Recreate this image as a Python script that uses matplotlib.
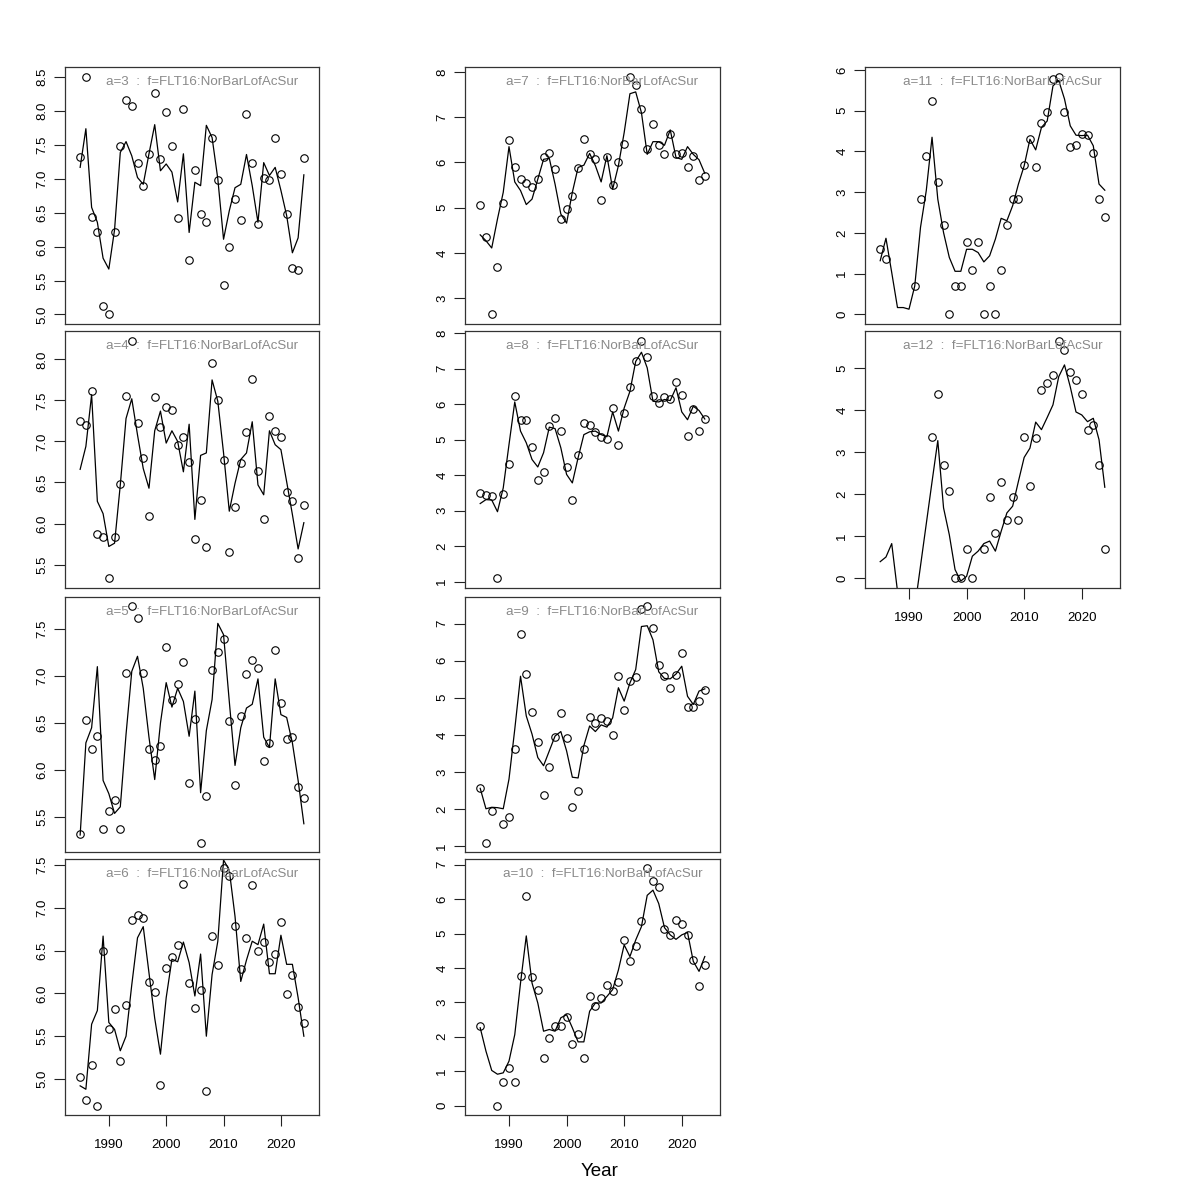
import numpy as np
import matplotlib
matplotlib.use("Agg")
import matplotlib.pyplot as plt
from matplotlib.ticker import MultipleLocator, FormatStrFormatter

plt.rcParams['font.family'] = ['Liberation Sans', 'DejaVu Sans']

years = np.arange(1985, 2025)
x_range = (1984, 2025)
nan = np.nan
fleet = "f=FLT16:NorBarLofAcSur"
ages = [3, 4, 5, 6, 7, 8, 9, 10, 11, 12]

obs = {
    3: [7.33, 8.51, 6.44, 6.22, 5.13, 5.00, 6.22, 7.48, 8.17, 8.08,
        7.23, 6.90, 7.36, 8.26, 7.29, 7.98, 7.48, 6.42, 8.03, 5.81,
        7.13, 6.48, 6.37, 7.60, 6.98, 5.43, 6.00, 6.71, 6.40, 7.95,
        7.23, 6.33, 7.01, 6.99, 7.61, 7.07, 6.48, 5.68, 5.66, 7.31],
    4: [7.25, 7.20, 7.62, 5.87, 5.84, 5.33, 5.84, 6.48, 7.55, 8.23,
        7.23, 6.80, 6.09, 7.54, 7.17, 7.42, 7.38, 6.96, 7.06, 6.75,
        5.81, 6.29, 5.71, 7.96, 7.51, 6.78, 5.65, 6.20, 6.74, 7.12,
        7.76, 6.64, 6.05, 7.31, 7.13, 7.06, 6.38, 6.27, 5.58, 6.23],
    5: [5.32, 6.53, 6.22, 6.36, 5.37, 5.57, 5.68, 5.37, 7.03, 7.74,
        7.62, 7.03, 6.22, 6.11, 6.26, 7.31, 6.75, 6.92, 7.15, 5.86,
        6.54, 5.23, 5.73, 7.06, 7.26, 7.39, 6.52, 5.84, 6.58, 7.02,
        7.17, 7.09, 6.10, 6.29, 7.28, 6.71, 6.33, 6.35, 5.82, 5.70],
    6: [5.02, 4.75, 5.16, 4.69, 6.50, 5.59, 5.82, 5.21, 5.87, 6.86,
        6.92, 6.88, 6.13, 6.02, 4.93, 6.30, 6.43, 6.56, 7.28, 6.12,
        5.83, 6.04, 4.86, 6.67, 6.33, 7.46, 7.37, 6.79, 6.29, 6.65,
        7.27, 6.49, 6.60, 6.37, 6.46, 6.84, 5.99, 6.22, 5.84, 5.65],
    7: [5.05, 4.35, 2.64, 3.68, 5.10, 6.49, 5.89, 5.64, 5.54, 5.45,
        5.64, 6.13, 6.22, 5.85, 4.76, 4.98, 5.25, 5.88, 6.51, 6.18,
        6.07, 5.16, 6.13, 5.50, 6.02, 6.41, 7.90, 7.71, 7.18, 6.30,
        6.86, 6.38, 6.18, 6.64, 6.18, 6.22, 5.90, 6.15, 5.62, 5.71],
    8: [3.50, 3.45, 3.41, 1.09, 3.46, 4.30, 6.23, 5.55, 5.55, 4.79,
        3.86, 4.08, 5.39, 5.62, 5.25, 4.24, 3.30, 4.56, 5.47, 5.40,
        5.22, 5.08, 5.03, 5.88, 4.86, 5.76, 6.49, 7.21, 7.79, 7.33,
        6.23, 6.02, 6.20, 6.15, 6.62, 6.26, 5.10, 5.86, 5.23, 5.59],
    9: [2.56, 1.10, 1.94, nan, 1.61, 1.79, 3.61, 6.71, 5.63, 4.63,
        3.80, 2.39, 3.13, 3.93, 4.60, 3.91, 2.07, 2.48, 3.63, 4.47,
        4.31, 4.46, 4.38, 4.00, 5.59, 4.68, 5.45, 5.55, 7.39, 7.46,
        6.88, 5.88, 5.59, 5.26, 5.61, 6.21, 4.75, 4.75, 4.90, 5.22],
    10: [2.30, nan, nan, 0.00, 0.69, 1.10, 0.69, 3.76, 6.09, 3.73,
         3.37, 1.39, 1.95, 2.30, 2.30, 2.57, 1.79, 2.08, 1.39, 3.17,
         2.88, 3.12, 3.50, 3.34, 3.58, 4.82, 4.21, 4.65, 5.37, 6.89,
         6.53, 6.34, 5.12, 4.96, 5.38, 5.27, 4.97, 4.23, 3.47, 4.08],
    11: [1.60, 1.37, nan, nan, nan, nan, 0.69, 2.83, 3.89, 5.23,
         3.25, 2.19, 0.00, 0.69, 0.69, 1.78, 1.10, 1.78, 0.00, 0.69,
         0.00, 1.10, 2.19, 2.83, 2.83, 3.68, 4.31, 3.63, 4.71, 4.98,
         5.78, 5.84, 4.98, 4.11, 4.17, 4.43, 4.40, 3.97, 2.83, 2.40],
    12: [nan, nan, nan, nan, nan, nan, nan, nan, nan, 3.36,
         4.38, 2.70, 2.07, 0.00, 0.00, 0.69, 0.00, nan, 0.69, 1.94,
         1.09, 2.30, 1.38, 1.94, 1.38, 3.36, 2.19, 3.33, 4.48, 4.64,
         4.83, 5.66, 5.43, 4.91, 4.71, 4.38, 3.52, 3.66, 2.70, 0.69],
}

pred = {
    3: [7.17, 7.74, 6.58, 6.36, 5.83, 5.67, 6.25, 7.39, 7.55, 7.34,
        7.02, 6.92, 7.37, 7.80, 7.12, 7.22, 7.10, 6.66, 7.37, 6.21,
        6.95, 6.90, 7.79, 7.61, 7.00, 6.11, 6.53, 6.87, 6.92, 7.36,
        6.90, 6.36, 7.24, 7.05, 7.17, 6.83, 6.46, 5.91, 6.13, 7.06],
    4: [6.66, 6.94, 7.57, 6.27, 6.12, 5.72, 5.76, 6.47, 7.28, 7.52,
        7.08, 6.67, 6.43, 7.13, 7.37, 6.98, 7.13, 7.00, 6.63, 7.21,
        6.05, 6.83, 6.86, 7.75, 7.49, 6.86, 6.15, 6.49, 6.78, 6.86,
        7.24, 6.47, 6.35, 7.13, 6.96, 6.90, 6.51, 6.11, 5.69, 6.01],
    5: [5.31, 6.29, 6.45, 7.10, 5.89, 5.75, 5.54, 5.61, 6.38, 7.05,
        7.21, 6.87, 6.35, 5.90, 6.50, 6.93, 6.67, 6.87, 6.73, 6.36,
        6.84, 5.76, 6.42, 6.75, 7.56, 7.44, 6.73, 6.05, 6.45, 6.66,
        6.70, 6.97, 6.35, 6.24, 6.97, 6.59, 6.56, 6.29, 5.89, 5.43],
    6: [4.92, 4.88, 5.64, 5.80, 6.67, 5.66, 5.58, 5.33, 5.50, 6.10,
        6.65, 6.78, 6.24, 5.71, 5.29, 5.95, 6.40, 6.37, 6.60, 6.36,
        5.97, 6.46, 5.50, 6.22, 6.61, 7.56, 7.44, 6.90, 6.14, 6.39,
        6.61, 6.57, 6.81, 6.23, 6.23, 6.68, 6.34, 6.34, 5.95, 5.50],
    7: [4.40, 4.27, 4.11, 4.75, 5.34, 6.35, 5.57, 5.38, 5.07, 5.19,
        5.63, 6.07, 6.09, 5.52, 4.86, 4.66, 5.34, 5.89, 5.94, 6.20,
        5.93, 5.57, 6.15, 5.41, 5.93, 6.66, 7.52, 7.56, 7.10, 6.18,
        6.46, 6.46, 6.38, 6.72, 6.11, 6.07, 6.35, 6.18, 6.06, 5.76],
    8: [3.20, 3.31, 3.30, 2.97, 3.64, 4.86, 6.06, 5.24, 4.91, 4.44,
        4.23, 4.63, 5.35, 5.31, 4.77, 4.02, 3.78, 4.49, 5.14, 5.22,
        5.24, 5.14, 5.08, 5.78, 5.24, 5.89, 6.36, 7.20, 7.46, 7.02,
        6.08, 6.06, 6.13, 6.10, 6.46, 5.78, 5.56, 5.94, 5.82, 5.58],
    9: [2.56, 2.01, 2.05, 2.04, 2.01, 2.81, 4.15, 5.58, 4.51, 4.02,
        3.39, 3.17, 3.57, 3.97, 4.09, 3.57, 2.86, 2.84, 3.71, 4.24,
        4.09, 4.27, 4.21, 4.46, 5.27, 4.91, 5.40, 5.76, 6.92, 6.94,
        6.56, 5.70, 5.52, 5.51, 5.64, 5.85, 5.04, 4.82, 5.18, 5.24],
    10: [2.26, 1.58, 1.02, 0.91, 0.95, 1.29, 2.06, 3.56, 4.93, 3.56,
         2.98, 2.16, 2.21, 2.16, 2.55, 2.64, 2.26, 1.85, 1.85, 2.74,
         2.98, 2.98, 3.17, 3.37, 3.94, 4.67, 4.33, 4.81, 5.20, 6.11,
         6.26, 5.87, 5.17, 4.96, 4.83, 4.96, 5.03, 4.19, 3.90, 4.33],
    11: [1.32, 1.87, 1.03, 0.17, 0.17, 0.13, 0.70, 2.14, 3.04, 4.35,
         2.83, 2.01, 1.40, 1.06, 1.06, 1.60, 1.60, 1.52, 1.29, 1.44,
         1.85, 2.36, 2.30, 2.67, 3.20, 3.65, 4.30, 4.04, 4.59, 4.75,
         5.61, 5.74, 5.29, 4.63, 4.40, 4.39, 4.40, 4.14, 3.20, 3.05],
    12: [0.40, 0.51, 0.83, -0.30, -1.50, -1.50, -0.70, 0.30, 1.30, 2.30,
         3.28, 1.68, 1.04, 0.21, -0.06, 0.05, 0.53, 0.65, 0.83, 0.89,
         0.65, 1.12, 1.56, 1.72, 2.31, 2.88, 3.10, 3.72, 3.54, 3.83,
         4.13, 4.80, 5.08, 4.56, 3.96, 3.89, 3.73, 3.81, 3.30, 2.17],
}

tick_step = {3: 0.5, 4: 0.5, 5: 0.5, 6: 0.5, 7: 1, 8: 1, 9: 1, 10: 1, 11: 1, 12: 1}
xticks = [1990, 2000, 2010, 2020]

# panel frames in pixel coordinates (left, right) / (top, bottom)
col_x = [(65, 319), (465, 720), (865, 1120)]
row_y = [(67, 324), (331, 588), (597, 852), (859, 1115)]
layout = {3: (0, 0), 4: (0, 1), 5: (0, 2), 6: (0, 3),
          7: (1, 0), 8: (1, 1), 9: (1, 2), 10: (1, 3),
          11: (2, 0), 12: (2, 1)}
bottom_panels = {6, 10, 12}

W = H = 1200
fig = plt.figure(figsize=(12, 12), dpi=100)

for a in ages:
    c, r = layout[a]
    x0, x1 = col_x[c]
    y0, y1 = row_y[r]
    ax = fig.add_axes([x0 / W, 1 - y1 / H, (x1 - x0) / W, (y1 - y0) / H])
    o = np.array(obs[a], dtype=float)
    p = np.array(pred[a], dtype=float)
    ax.plot(years, p, color='black', lw=0.9, zorder=2)
    ax.plot(years, o, linestyle='none', marker='o', markersize=5.4,
            markerfacecolor='none', markeredgecolor='black',
            markeredgewidth=0.8, zorder=3)
    lo, hi = np.nanmin(o), np.nanmax(o)
    pad = 0.04 * (hi - lo)
    ax.set_ylim(lo - pad, hi + pad)
    xpad = 0.04 * (x_range[1] - x_range[0])
    ax.set_xlim(x_range[0] - xpad, x_range[1] + xpad)
    ax.yaxis.set_major_locator(MultipleLocator(tick_step[a]))
    if tick_step[a] < 1:
        ax.yaxis.set_major_formatter(FormatStrFormatter('%.1f'))
    else:
        ax.yaxis.set_major_formatter(FormatStrFormatter('%d'))
    ax.tick_params(axis='y', direction='out', length=8, width=0.8,
                   labelsize=9.5, pad=4, labelrotation=90, color='#222222')
    for lab in ax.get_yticklabels():
        lab.set_verticalalignment('center')
    if a in bottom_panels:
        ax.set_xticks(xticks)
        ax.tick_params(axis='x', direction='out', length=8, width=0.8,
                       labelsize=9.5, pad=9, color='#222222')
    else:
        ax.set_xticks([])
    for s in ax.spines.values():
        s.set_linewidth(0.9)
        s.set_color('#333333')
    ax.text(0.539, 0.942, f"a={a}  :  {fleet}", transform=ax.transAxes,
            ha='center', va='center', fontsize=9.6, color='#8a8a8a')

fig.text(600 / W, 1 - 1172 / H, "Year", ha='center', va='center', fontsize=13.5)

fig.savefig("out.png", dpi=100)
